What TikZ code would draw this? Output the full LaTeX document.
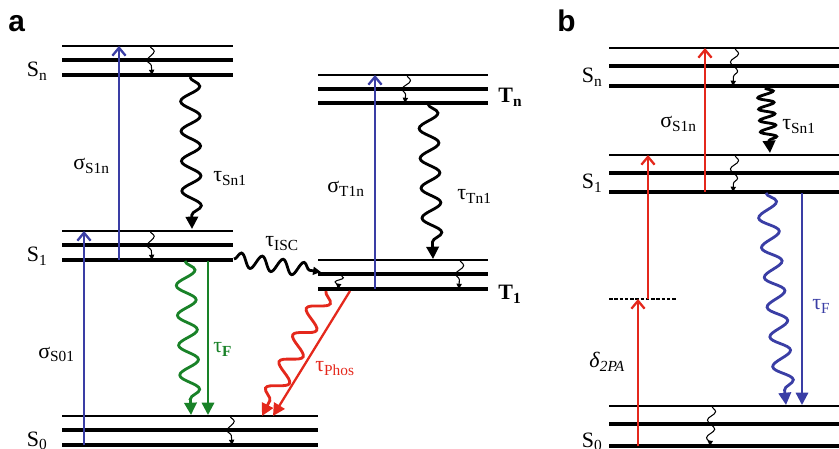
\documentclass[tikz,border=0pt]{standalone}
\usepackage{fontspec}
\setmainfont{Liberation Serif}
\setsansfont{Liberation Sans}
\usetikzlibrary{arrows.meta,decorations.pathmorphing}
\definecolor{pumpblue}{RGB}{58,62,165}
\definecolor{fluogreen}{RGB}{25,130,40}
\definecolor{phosred}{RGB}{228,40,28}

\tikzset{
    lthin/.style={line width=0.6pt},
    lmid/.style={line width=1.8pt},
    lthick/.style={line width=2.7pt},
    lbl/.style={inner sep=0pt, font=\fontsize{12.5}{14}\selectfont},
    pump/.style={line width=1.3pt, -{Straight Barb[length=4.5pt,width=7.5pt]}},
    emit/.style={line width=1.3pt, -{Triangle[length=7pt,width=7pt]}},
    wave/.style={line width=1.6pt, -{Triangle[length=7pt,width=7pt]}, decorate,
        decoration={snake, amplitude=5.5pt, segment length=17pt, post length=5pt}},
    relax/.style={line width=0.6pt, -{Triangle[length=3pt,width=3pt]}, decorate,
        decoration={snake, amplitude=2.2pt, segment length=10pt, post length=1.5pt}},
}

\begin{document}
\begin{tikzpicture}[x=0.02cm, y=-0.02cm]
    \useasboundingbox (0,0) rectangle (839,449);

    % panel a: levels
    \draw[lthin] (62,46) -- (233,46);
    \draw[lmid] (62,60) -- (233,60);
    \draw[lthick] (62,75) -- (233,75);
    \draw[lthin] (62,231) -- (233,231);
    \draw[lmid] (62,245) -- (233,245);
    \draw[lthick] (62,260) -- (233,260);
    \draw[lthin] (62,416) -- (318,416);
    \draw[lmid] (62,430) -- (318,430);
    \draw[lthick] (62,445) -- (318,445);
    \draw[lthin] (318,75) -- (488,75);
    \draw[lmid] (318,89) -- (488,89);
    \draw[lthick] (318,103) -- (488,103);
    \draw[lthin] (318,260) -- (488,260);
    \draw[lmid] (318,274) -- (488,274);
    \draw[lthick] (318,289) -- (488,289);

    \node[lbl, font=\sffamily\bfseries\fontsize{17}{18}\selectfont, anchor=base west] (panA) at (8,32) {a};
    \node[lbl, anchor=base east] (aSn) at (48,77) {S\textsubscript{n}};
    \node[lbl, anchor=base east] (aS1) at (48,262) {S\textsubscript{1}};
    \node[lbl, anchor=base east] (aS0) at (48,446) {S\textsubscript{0}};
    \node[lbl, anchor=base west] (aTn) at (498,103) {\textbf{T}\textsubscript{\textbf{n}}};
    \node[lbl, anchor=base west] (aT1) at (498,300) {\textbf{T}\textsubscript{\textbf{1}}};

    \node[lbl, anchor=base west] (sigSa) at (73,170) {σ\textsubscript{S1n}};
    \node[lbl, anchor=base west] (tauSa) at (213,182) {τ\textsubscript{Sn1}};
    \node[lbl, anchor=base west] (sigS0) at (38,358) {σ\textsubscript{S01}};
    \node[lbl, anchor=base west, text=fluogreen] (tauFa) at (213,353) {τ\textsubscript{\textbf{F}}};
    \node[lbl, anchor=base west] (tauISC) at (265,247) {τ\textsubscript{ISC}};
    \node[lbl, anchor=base west, text=phosred] (tauPh) at (315,372) {τ\textsubscript{Phos}};
    \node[lbl, anchor=base west] (sigT) at (327,193) {σ\textsubscript{T1n}};
    \node[lbl, anchor=base west] (tauT) at (457,200) {τ\textsubscript{Tn1}};

    % panel a: end points
    \coordinate (aS0p) at (84,445);   \coordinate (aS1t) at (84,231);
    \coordinate (aS1p) at (119,260);  \coordinate (aSnt) at (119,46);
    \coordinate (aSnd) at (190,77);   \coordinate (aS1d) at (192,229);
    \coordinate (aFw) at (185,261);   \coordinate (aFwe) at (191,415);
    \coordinate (aFs) at (208,261);   \coordinate (aFse) at (208,415);
    \coordinate (aISC) at (234,259);  \coordinate (aISCe) at (321,272);
    \coordinate (aT1p) at (375,289);  \coordinate (aTnt) at (375,75);
    \coordinate (aTnd) at (428,104);  \coordinate (aT1d) at (433,259);
    \coordinate (aPw) at (326,291);   \coordinate (aPwe) at (262,416);
    \coordinate (aPs) at (350,291);   \coordinate (aPse) at (273,416);

    \draw[pump, pumpblue] (aS0p) -- (aS1t);
    \draw[pump, pumpblue] (aS1p) -- (aSnt);
    \draw[pump, pumpblue] (aT1p) -- (aTnt);
    \draw[wave] (aSnd) -- (aS1d);
    \draw[wave] (aTnd) -- (aT1d);
    \draw[wave, fluogreen] (aFw) -- (aFwe);
    \draw[emit, fluogreen] (aFs) -- (aFse);
    \draw[wave, phosred] (aPw) -- (aPwe);
    \draw[emit, phosred] (aPs) -- (aPse);
    \draw[wave, decoration={amplitude=4pt, segment length=12pt, post length=3pt},
        -{Triangle[length=4.5pt,width=4.5pt]}] (aISC) -- (aISCe);

    % small relaxations
    \coordinate (r1) at (150,46);  \coordinate (r1e) at (152,75);
    \coordinate (r2) at (150,231); \coordinate (r2e) at (152,260);
    \coordinate (r3) at (230,416); \coordinate (r3e) at (232,445);
    \coordinate (r4) at (407,75);  \coordinate (r4e) at (405,103);
    \coordinate (r5) at (460,260); \coordinate (r5e) at (459,289);
    \coordinate (r6) at (340,274); \coordinate (r6e) at (338,289);
    \draw[relax] (r1) -- (r1e);
    \draw[relax] (r2) -- (r2e);
    \draw[relax] (r3) -- (r3e);
    \draw[relax] (r4) -- (r4e);
    \draw[relax] (r5) -- (r5e);
    \draw[relax, decoration={segment length=6pt}] (r6) -- (r6e);

    % panel b: levels
    \draw[lthin] (609,48) -- (839,48);
    \draw[lmid] (609,66) -- (839,66);
    \draw[lthick] (609,86) -- (839,86);
    \draw[lthin] (609,155) -- (839,155);
    \draw[lmid] (609,173) -- (839,173);
    \draw[lthick] (609,192) -- (839,192);
    \draw[lthin] (609,406) -- (839,406);
    \draw[lmid] (609,424) -- (839,424);
    \draw[lthick] (609,446) -- (839,446);
    \draw[lthin, dashed, dash pattern=on 2pt off 1pt] (609,299) -- (677,299);

    \node[lbl, font=\sffamily\bfseries\fontsize{17}{18}\selectfont, anchor=base west] (panB) at (557,32) {b};
    \node[lbl, anchor=base east] (bSn) at (603,83) {S\textsubscript{n}};
    \node[lbl, anchor=base east] (bS1) at (603,189) {S\textsubscript{1}};
    \node[lbl, anchor=base east] (bS0) at (603,447) {S\textsubscript{0}};
    \node[lbl, anchor=base west] (sigSb) at (660,128) {σ\textsubscript{S1n}};
    \node[lbl, anchor=base west] (tauSb) at (782,130) {τ\textsubscript{Sn1}};
    \node[lbl, anchor=base west] (delta) at (589,368) {\textit{δ}\textsubscript{\textit{2PA}}};
    \node[lbl, anchor=base west, text=pumpblue] (tauFb) at (812,310) {τ\textsubscript{F}};

    % panel b: end points
    \coordinate (bS0p) at (638,446);  \coordinate (bVt) at (638,299);
    \coordinate (bVp) at (648,299);   \coordinate (bS1t) at (648,155);
    \coordinate (bS1p) at (705,192);  \coordinate (bSnt) at (705,48);
    \coordinate (bSnd) at (765,88);   \coordinate (bS1d) at (770,153);
    \coordinate (bFw) at (766,193);   \coordinate (bFwe) at (786,405);
    \coordinate (bFs) at (802,193);   \coordinate (bFse) at (802,405);

    \draw[pump, phosred] (bS0p) -- (bVt);
    \draw[pump, phosred] (bVp) -- (bS1t);
    \draw[pump, phosred] (bS1p) -- (bSnt);
    \draw[wave, decoration={amplitude=4.5pt, segment length=6.5pt, post length=4pt}] (bSnd) -- (bS1d);
    \draw[wave, pumpblue] (bFw) -- (bFwe);
    \draw[emit, pumpblue] (bFs) -- (bFse);

    \coordinate (r7) at (735,48);  \coordinate (r7e) at (733,86);
    \coordinate (r8) at (735,155); \coordinate (r8e) at (733,192);
    \coordinate (r9) at (712,406); \coordinate (r9e) at (710,446);
    \draw[relax] (r7) -- (r7e);
    \draw[relax] (r8) -- (r8e);
    \draw[relax] (r9) -- (r9e);
\end{tikzpicture}
\end{document}
